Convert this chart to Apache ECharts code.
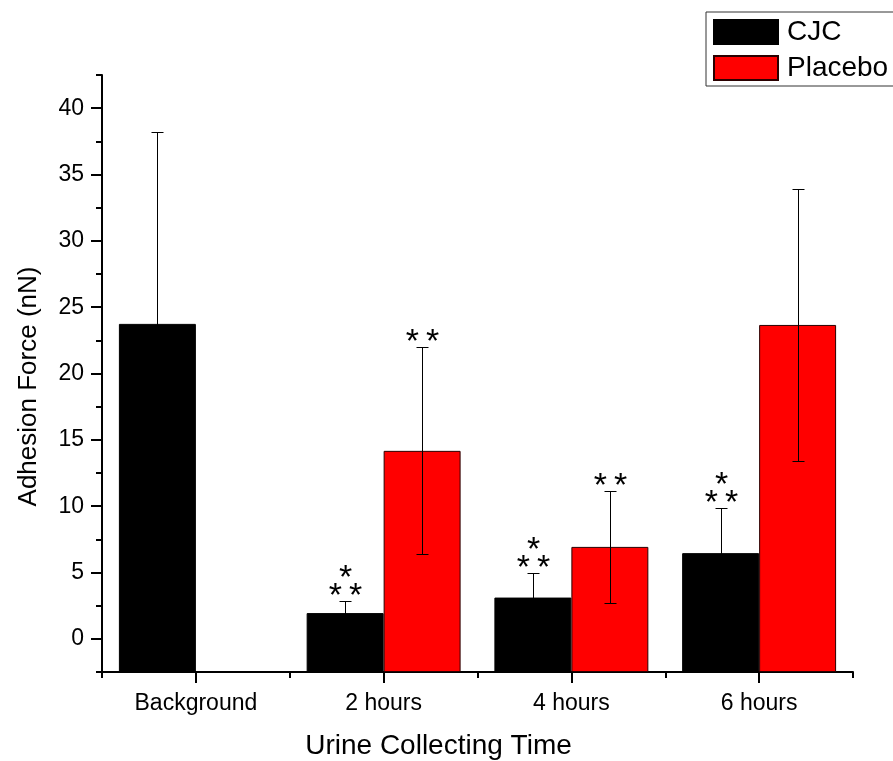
<!DOCTYPE html>
<html>
<head>
<meta charset="utf-8">
<script src="https://cdn.jsdelivr.net/npm/echarts@6/dist/echarts.min.js"></script>
<style>
html,body{margin:0;padding:0;background:#fff;}
#chart{width:893px;height:761px;}
</style>
</head>
<body>
<div id="chart"></div>
<script>
const categories = ['Background', '2 hours', '4 hours', '6 hours'];
const cjcMean = [23.74, 1.94, 3.11, 6.46];
const cjcSD = [14.45, 0.92, 1.84, 3.41];
const placeboMean = [null, 14.17, 6.93, 23.66];
const placeboSD = [null, 7.8, 4.2, 10.28];
const cjcStars = ['', '*\n**', '*\n**', '*\n**'];
const placeboStars = ['', '**', '**', ''];
const yMajorTicks = [0, 5, 10, 15, 20, 25, 30, 35, 40];
const yMinorTicks = [-2.5, 2.5, 7.5, 12.5, 17.5, 22.5, 27.5, 32.5, 37.5, 42.5];

const FONT = "'Liberation Sans', Arial, sans-serif";

function errData(means, sds) {
  const out = [];
  means.forEach((m, i) => { if (m != null) out.push([i, m, sds[i]]); });
  return out;
}

function makeRender(stars, sign) {
  return function (params, api) {
    const i = api.value(0), m = api.value(1), s = api.value(2);
    const band = api.size([1, 0])[0];
    const x = Math.round(api.coord([i, m])[0] + sign * band * 0.205) + 0.5;
    const yTop = Math.round(api.coord([i, m + s])[1]) + 0.5;
    const yBot = Math.round(api.coord([i, m - s])[1]) + 0.5;
    const cap = 6;
    const st = { stroke: '#000', lineWidth: 1 };
    const children = [
      { type: 'line', shape: { x1: x, y1: yTop, x2: x, y2: yBot }, style: st },
      { type: 'line', shape: { x1: x - cap, y1: yTop, x2: x + cap, y2: yTop }, style: st },
      { type: 'line', shape: { x1: x - cap, y1: yBot, x2: x + cap, y2: yBot }, style: st }
    ];
    const lines = (stars[i] || '').split('\n').filter(t => t.length).reverse();
    lines.forEach((t, k) => {
      children.push({
        type: 'text',
        style: {
          text: t.split('').join('\u2009'), x: x, y: yTop - 5 - k * 18,
          align: 'center', verticalAlign: 'middle',
          font: '34px ' + FONT, fill: '#000'
        }
      });
    });
    return { type: 'group', children: children };
  };
}

const chart = echarts.init(document.getElementById('chart'), null, { renderer: 'canvas' });
chart.setOption({
  animation: false,
  backgroundColor: '#fff',
  textStyle: { fontFamily: FONT },
  grid: { left: 102, right: 40, top: 75, bottom: 89, containLabel: false, outerBoundsMode: 'none' },
  legend: {
    data: ['CJC', 'Placebo'],
    orient: 'vertical',
    left: 706, top: 12,
    itemWidth: 64, itemHeight: 24, itemGap: 8,
    icon: 'rect',
    selectedMode: false,
    padding: [6, 40, 4, 7],
    borderColor: '#333', borderWidth: 1,
    backgroundColor: '#fff',
    textStyle: { fontSize: 28, lineHeight: 24, color: '#000', fontFamily: FONT, padding: [0, 0, 0, 4] }
  },
  xAxis: [
    {
      type: 'category', data: categories, boundaryGap: true,
      axisLine: { onZero: false, lineStyle: { color: '#000', width: 2 } },
      axisTick: { show: true, alignWithLabel: false, length: 6, lineStyle: { color: '#000', width: 2 } },
      axisLabel: { fontSize: 23, color: '#000', margin: 20, fontFamily: FONT },
      name: 'Urine Collecting Time', nameLocation: 'middle', nameGap: 60,
      nameTextStyle: { fontSize: 28, color: '#000', fontFamily: FONT, padding: [0, 78, 0, 0] },
      splitLine: { show: false }
    },
    {
      type: 'category', data: categories, boundaryGap: true, position: 'bottom', offset: 0,
      axisLine: { show: false, onZero: false },
      axisTick: { show: true, alignWithLabel: true, length: 11, lineStyle: { color: '#000', width: 2 } },
      axisLabel: { show: false },
      splitLine: { show: false }
    }
  ],
  yAxis: [
    {
      type: 'value', min: -2.5, max: 42.5, interval: 2.5, startValue: -2.5,
      axisLine: { show: true, onZero: false, lineStyle: { color: '#000', width: 2 } },
      axisTick: { show: true, length: 11, customValues: yMajorTicks, lineStyle: { color: '#000', width: 2 } },
      axisLabel: { fontSize: 23, color: '#000', margin: 18, customValues: yMajorTicks, fontFamily: FONT },
      splitLine: { show: false },
      name: 'Adhesion Force (nN)', nameLocation: 'middle', nameGap: 60,
      nameTextStyle: { fontSize: 26, color: '#000', fontFamily: FONT, padding: [0, 26, 0, 0] }
    },
    {
      type: 'value', min: -2.5, max: 42.5, interval: 2.5, position: 'left', offset: 0,
      axisLine: { show: false, onZero: false },
      axisTick: { show: true, length: 6, customValues: yMinorTicks, lineStyle: { color: '#000', width: 2 } },
      axisLabel: { show: false },
      splitLine: { show: false }
    }
  ],
  series: [
    {
      name: 'CJC', type: 'bar', data: cjcMean, barGap: '0%', barCategoryGap: '18%',
      itemStyle: { color: '#000', borderColor: '#000', borderWidth: 1 }
    },
    {
      name: 'Placebo', type: 'bar', data: placeboMean, barGap: '0%', barCategoryGap: '18%',
      itemStyle: { color: '#ff0000', borderColor: '#2a0000', borderWidth: 1 }
    },
    {
      name: 'cjcErr', type: 'custom', data: errData(cjcMean, cjcSD), z: 10,
      encode: { x: 0, y: 1 }, renderItem: makeRender(cjcStars, -1), silent: true
    },
    {
      name: 'placeboErr', type: 'custom', data: errData(placeboMean, placeboSD), z: 10,
      encode: { x: 0, y: 1 }, renderItem: makeRender(placeboStars, 1), silent: true
    }
  ]
});
</script>
</body>
</html>
